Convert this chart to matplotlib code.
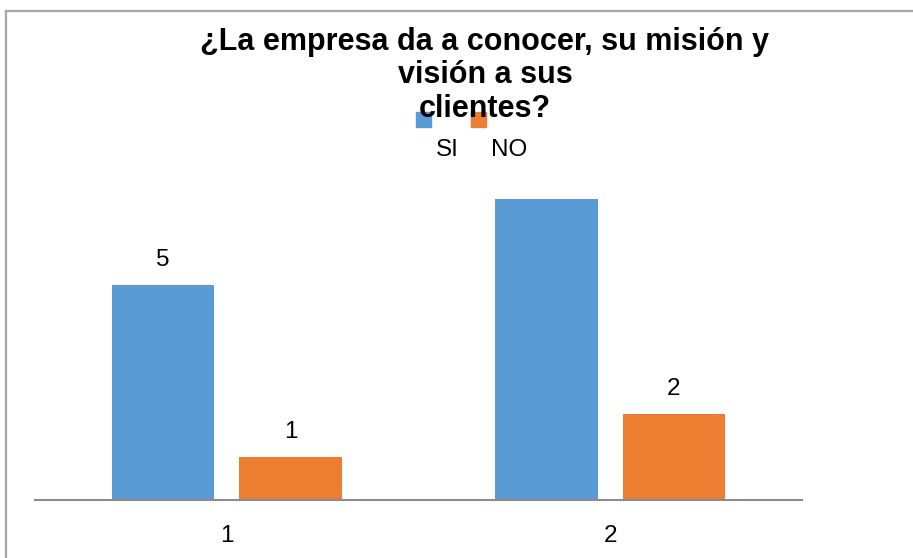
import numpy as np
import matplotlib
matplotlib.use('Agg')
import matplotlib.pyplot as plt
from matplotlib.lines import Line2D
from matplotlib.patches import Rectangle

plt.rcParams['font.family'] = ['Liberation Sans', 'DejaVu Sans']

# Survey answers per group
categories = ['1', '2']
si_values = [5, 7]
no_values = [1, 2]
si_labels = ['5', '']
no_labels = ['1', '2']
series_names = ['SI', 'NO']
colors = ['#5B9BD5', '#ED7D31']
title = '¿La empresa da a conocer, su misión y\nvisión a sus\nclientes?'

W, H = 913, 558
fig = plt.figure(figsize=(W / 100, H / 100), dpi=100)

# plot area in pixels: x 35..802, baseline at y=500
ax = fig.add_axes([35 / W, 58 / H, 767 / W, 344 / H])

x = np.arange(len(categories))
bw = 0.267
gap = 0.065
off = (bw + gap) / 2
bars_si = ax.bar(x - off, si_values, bw, color=colors[0])
bars_no = ax.bar(x + off, no_values, bw, color=colors[1])

for bars, labels in [(bars_si, si_labels), (bars_no, no_labels)]:
    for b, lab in zip(bars, labels):
        if lab:
            ax.annotate(lab, (b.get_x() + b.get_width() / 2, b.get_height()),
                        xytext=(0, 18), textcoords='offset points',
                        ha='center', va='center', fontsize=17.5)

ax.set_xlim(-0.5, 1.5)
ax.set_ylim(0, 8)
ax.set_xticks(x)
ax.set_xticklabels(categories, fontsize=17.5)
ax.tick_params(axis='x', length=0, pad=18)
ax.set_yticks([])
for s in ['top', 'right', 'left']:
    ax.spines[s].set_visible(False)
ax.spines['bottom'].set_color('#8c8c8c')
ax.spines['bottom'].set_linewidth(1.5)

# outer chart frame (top and left edges)
fig.add_artist(Line2D([5.5 / W, 1], [1 - 11 / H, 1 - 11 / H],
                      transform=fig.transFigure, color='#a6a6a6', lw=1.6))
fig.add_artist(Line2D([5.5 / W, 5.5 / W], [1 - 11 / H, 0],
                      transform=fig.transFigure, color='#a6a6a6', lw=1.6))

# baseline of the last title line
fig.text(485 / W, 1 - 117 / H, title, ha='center', va='baseline',
         fontsize=22, fontweight='bold', linespacing=1.16)

# legend: swatches sit above their labels
for name, col, sx in zip(series_names, colors, [416, 471]):
    fig.add_artist(Rectangle((sx / W, 1 - 127 / H), 15 / W, 15 / H,
                             transform=fig.transFigure, color=col))
    fig.text((sx + 20) / W, 1 - 150 / H, name, ha='left', va='center',
             fontsize=17.5)

fig.savefig('out.png', dpi=100)
